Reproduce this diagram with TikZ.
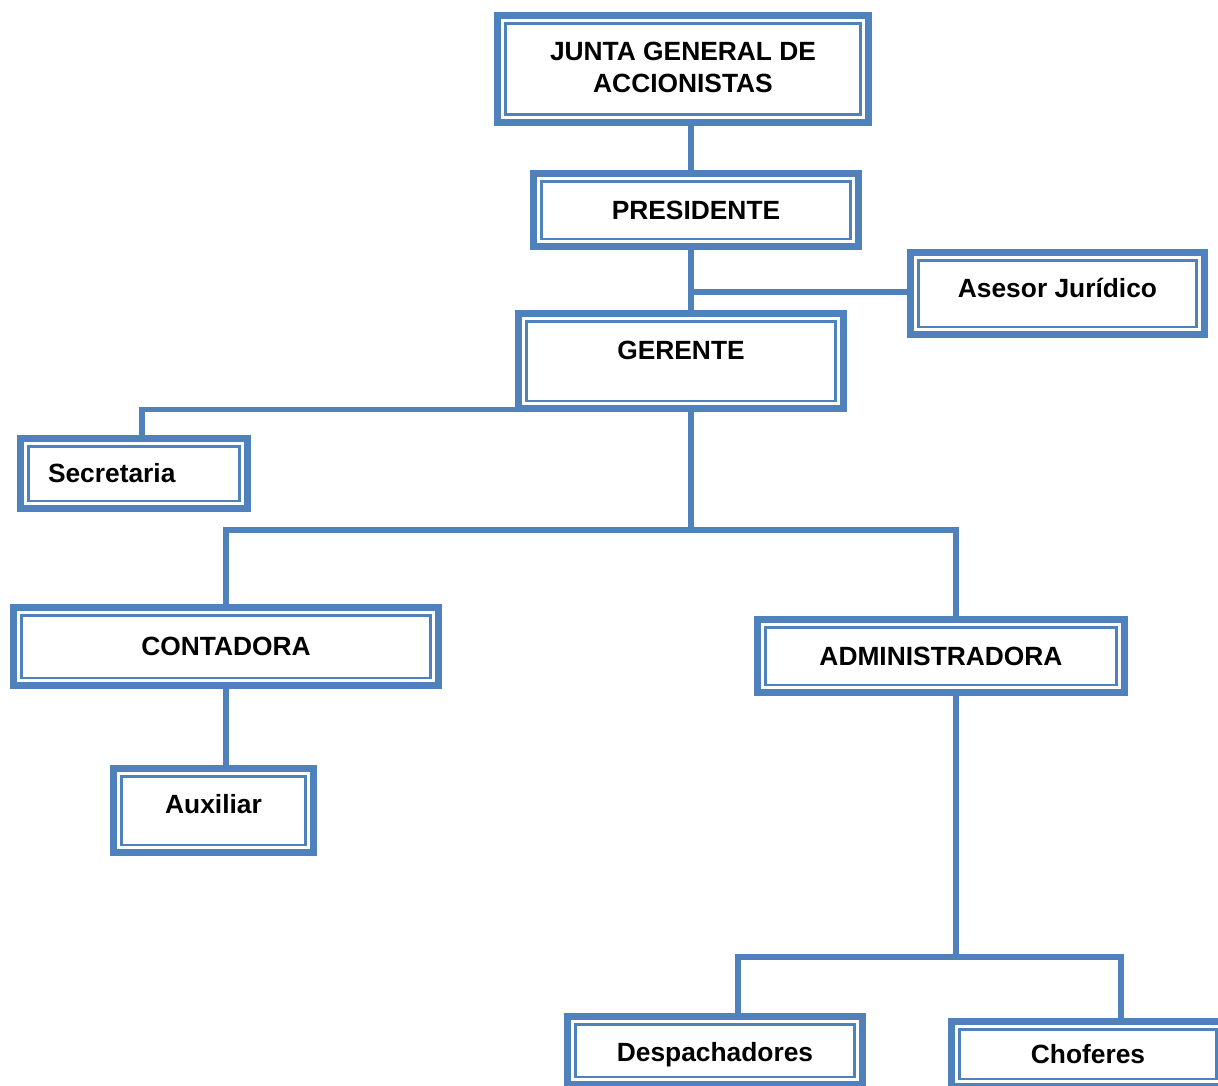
\documentclass[tikz,border=0pt]{standalone}
\usepackage{fontspec}
\setsansfont{Liberation Sans}
\usetikzlibrary{positioning,calc}
\definecolor{orgblue}{HTML}{4F81BD}
\tikzset{
  orgbox/.style={draw=orgblue, line width=0.14cm, fill=white, align=center,
    inner sep=2pt, font=\sffamily\bfseries\fontsize{15}{18}\selectfont,
    path picture={\draw[orgblue, line width=0.05cm]
      ([shift={(0.155cm,0.155cm)}]path picture bounding box.south west) rectangle
      ([shift={(-0.155cm,-0.155cm)}]path picture bounding box.north east);}},
  link/.style={draw=orgblue, line width=0.11cm}
}

\begin{document}
\begin{tikzpicture}[x=0.02cm,y=-0.02cm]
	\useasboundingbox (0,0) rectangle (1218,1086);
	% boxes
	\node[orgbox, minimum width=7.42cm, minimum height=2.14cm, text depth=0.08cm] (junta) at (683,69) {JUNTA GENERAL DE\\ACCIONISTAS};
	\node[orgbox, minimum width=6.50cm, minimum height=1.46cm] (pres) at (696,210) {PRESIDENTE};
	\node[orgbox, minimum width=5.88cm, minimum height=1.64cm, text depth=0.22cm] (asesor) at (1057.5,293.5) {Asesor Jurídico};
	\node[orgbox, minimum width=6.50cm, minimum height=1.90cm, text depth=0.44cm] (ger) at (681,361) {GERENTE};
	\node[orgbox, minimum height=1.40cm, text width=3.44cm, inner xsep=0.55cm, align=left] (sec) at (134,473.5) {Secretaria};
	\node[orgbox, minimum width=8.50cm, minimum height=1.56cm] (cont) at (226,646.5) {CONTADORA};
	\node[orgbox, minimum width=7.34cm, minimum height=1.46cm] (adm) at (941,656) {ADMINISTRADORA};
	\node[orgbox, minimum width=4.00cm, minimum height=1.68cm, text depth=0.26cm] (aux) at (213.5,810.5) {Auxiliar};
	\node[orgbox, minimum width=5.90cm, minimum height=1.36cm, text height=0.45cm, text depth=0pt] (desp) at (715,1050.5) {Despachadores};
	\node[orgbox, minimum width=5.46cm, minimum height=1.30cm] (chof) at (1088,1054) {Choferes};
	% junctions
	\coordinate (spine) at (691,292);
	\coordinate (bus1) at (691,530);
	\coordinate (bus2) at (956,957);
	% connectors
	\draw[link] (junta.south -| spine) -- (pres.north -| spine);
	\draw[link] (pres.south -| spine) -- (ger.north -| spine);
	\draw[link] (spine) -- (asesor.west |- spine);
	\draw[link] ([xshift=0.16cm]sec.north) |- ([yshift=0.05cm]ger.south west);
	\draw[link] (ger.south -| bus1) -- (bus1);
	\draw[link] (cont.north) |- (bus1) -| (adm.north -| bus2);
	\draw[link] (cont.south) -- (aux.north -| cont.south);
	\draw[link] (adm.south -| bus2) -- (bus2);
	\draw[link] ([xshift=0.46cm]desp.north) |- (bus2) -| ([xshift=0.66cm]chof.north);
\end{tikzpicture}
\end{document}
